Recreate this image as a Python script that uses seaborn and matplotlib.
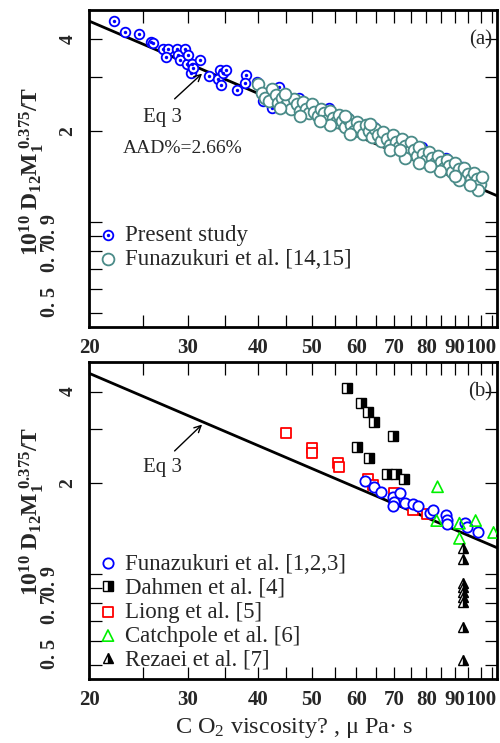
import matplotlib
matplotlib.use('Agg')
import matplotlib.pyplot as plt
from matplotlib.ticker import FixedLocator, FixedFormatter, NullLocator
import seaborn as sns

# ---- panel (a) data ----
present_x = [22.2, 23.2, 24.6, 25.8, 26.0, 27.1, 27.7, 27.4, 28.7, 28.8, 29.1, 29.7,
             29.9, 30.1, 30.4, 30.5, 30.7, 31.6, 32.7, 34.2, 34.0, 34.4, 34.7, 35.1,
             36.7, 38.1, 38.0, 39.9, 40.9, 43.6, 42.4, 47.4, 47.2, 53.6, 57.9, 64.5,
             70.0, 78.5, 86.6, 92.5]
present_y = [4.59, 4.22, 4.16, 3.91, 3.88, 3.73, 3.73, 3.49, 3.71, 3.54, 3.43, 3.71,
             3.33, 3.54, 3.11, 3.33, 3.23, 3.41, 3.02, 3.16, 2.97, 2.82, 3.09, 3.18,
             2.73, 3.06, 2.88, 2.90, 2.51, 2.78, 2.37, 2.57, 2.38, 2.37, 2.21, 2.05,
             1.90, 1.77, 1.63, 1.52]

funa_a_x = [40.0, 40.7, 41.2, 42.0, 42.4, 43.1, 43.5, 44.2, 44.7, 45.3, 45.8, 46.4,
            47.0, 47.6, 48.2, 48.7, 49.4, 50.0, 50.4, 51.2, 51.9, 52.5, 53.1, 53.8,
            54.5, 55.1, 55.8, 56.5, 57.2, 57.9, 58.6, 59.4, 60.1, 60.8, 61.6, 62.4,
            63.1, 63.9, 64.7, 65.5, 66.3, 67.1, 68.0, 68.8, 69.7, 70.5, 71.4, 72.3,
            73.2, 74.1, 75.0, 76.0, 76.9, 77.8, 78.8, 79.8, 80.8, 81.8, 82.8, 83.8,
            84.9, 85.9, 87.0, 88.0, 89.1, 90.2, 91.4, 92.5, 93.6, 94.8, 96.0, 97.2,
            98.4, 99.6, 100.4, 98.8, 43.8, 47.6, 53.8, 58.4, 63.4, 68.8, 73.2, 77.8,
            84.5, 91.7, 44.7, 51.6, 57.2, 71.7, 81.1, 89.9, 95.6]
funa_a_y = [2.84, 2.67, 2.57, 2.51, 2.75, 2.63, 2.46, 2.57, 2.42, 2.51, 2.36, 2.55,
            2.44, 2.33, 2.48, 2.36, 2.28, 2.44, 2.31, 2.23, 2.36, 2.28, 2.17, 2.33,
            2.21, 2.13, 2.26, 2.16, 2.06, 2.19, 2.09, 2.00, 2.14, 2.05, 1.95, 2.09,
            2.00, 1.90, 2.03, 1.94, 1.85, 1.98, 1.88, 1.80, 1.93, 1.84, 1.76, 1.88,
            1.78, 1.70, 1.83, 1.73, 1.65, 1.76, 1.68, 1.60, 1.70, 1.63, 1.56, 1.65,
            1.58, 1.51, 1.60, 1.53, 1.46, 1.56, 1.49, 1.42, 1.51, 1.44, 1.38, 1.45,
            1.39, 1.33, 1.41, 1.27, 2.38, 2.24, 2.08, 1.95, 2.11, 1.72, 1.62, 1.57,
            1.47, 1.37, 2.65, 2.16, 2.24, 1.72, 1.53, 1.42, 1.32]

# ---- panel (b) data ----
funa_b_x = [62.1, 64.5, 66.3, 69.7, 70.0, 69.7, 71.7, 73.2, 75.7, 77.2, 81.1, 82.1,
            86.6, 87.0, 87.0, 94.0, 94.4, 98.8]
funa_b_y = [2.03, 1.93, 1.87, 1.80, 1.73, 1.67, 1.85, 1.72, 1.70, 1.67, 1.59, 1.62,
            1.57, 1.51, 1.46, 1.47, 1.43, 1.38]

dahmen_x = [57.7, 61.3, 62.9, 64.5, 69.7, 60.1, 63.1, 68.0, 70.5, 72.9]
dahmen_y = [4.12, 3.68, 3.43, 3.18, 2.86, 2.63, 2.42, 2.14, 2.14, 2.06]

liong_x = [44.9, 50.0, 50.0, 55.6, 55.8, 62.9, 64.2, 70.2, 75.7, 80.1]
liong_y = [2.93, 2.61, 2.51, 2.33, 2.26, 2.05, 1.97, 1.85, 1.63, 1.58]

catch_x = [83.8, 83.5, 91.7, 91.7, 98.0, 105.5]
catch_y = [1.94, 1.50, 1.47, 1.31, 1.50, 1.37]

rezaei_x = [92.9, 92.9, 92.9, 92.9, 92.9, 92.9, 92.9, 92.9, 92.9]
rezaei_y = [1.22, 1.12, 0.934, 0.906, 0.872, 0.839, 0.808, 0.668, 0.519]

# Eq 3 correlation line (end points)
eq3_x = [20, 107]
eq3_y = [4.6, 1.22]

x_ticks = [20, 25, 30, 35, 40, 45, 50, 55, 60, 65, 70, 75, 80, 85, 90, 95, 100, 105]
x_ticklabels = ['20', '', '30', '', '40', '', '50', '', '60', '', '70', '', '80', '',
                '90', '', '100', '']
y_ticks = [0.5, 0.6, 0.7, 0.8, 0.9, 1, 2, 3, 4]
y_ticklabels = ['', '', '', '', '', '', '2', '', '4']
y_small_labels = ['0. 5', '0. 7', '0. 9']
y_small_pos = [0.544, 0.765, 0.95]

sns.set_style('ticks')
plt.rcParams['font.family'] = ['Liberation Serif', 'DejaVu Serif']
plt.rcParams['mathtext.fontset'] = 'custom'
plt.rcParams['mathtext.rm'] = 'Liberation Serif'
plt.rcParams['mathtext.bf'] = 'Liberation Serif:bold'
plt.rcParams['mathtext.it'] = 'Liberation Serif:italic'

fig = plt.figure(figsize=(5, 7.43), dpi=100)
ax_a = fig.add_axes([0.178, 0.5599, 0.816, 0.4266])
ax_b = fig.add_axes([0.178, 0.0864, 0.816, 0.4260])


def style_axis(ax, tag):
    ax.set_xscale('log')
    ax.set_yscale('log')
    ax.set_xlim(20, 107)
    ax.set_ylim(0.45, 5.0)
    ax.xaxis.set_major_locator(FixedLocator(x_ticks))
    ax.xaxis.set_major_formatter(FixedFormatter(x_ticklabels))
    ax.xaxis.set_minor_locator(NullLocator())
    ax.yaxis.set_major_locator(FixedLocator(y_ticks))
    ax.yaxis.set_major_formatter(FixedFormatter(y_ticklabels))
    ax.yaxis.set_minor_locator(NullLocator())
    ax.tick_params(which='both', direction='in', top=True, right=True,
                   length=9, width=0.9, color='black')
    ax.tick_params(axis='x', labelsize=15, pad=8)
    ax.tick_params(axis='y', labelsize=14, pad=9, labelrotation=90)
    for lab in ax.get_xticklabels() + ax.get_yticklabels():
        lab.set_fontweight('bold')
    for lab in ax.get_yticklabels():
        lab.set_va('center')
    for s in ax.spines.values():
        s.set_linewidth(2)
        s.set_color('black')
    for txt, pos in zip(y_small_labels, y_small_pos):
        ax.text(-0.095, pos, txt, transform=ax.get_yaxis_transform(), rotation=90,
                ha='center', va='center', fontsize=14.5, fontweight='bold')
    ax.text(0.988, 0.905, tag, transform=ax.transAxes, ha='right', va='center',
            fontsize=15)
    sns.lineplot(x=eq3_x, y=eq3_y, ax=ax, color='black', linewidth=2, zorder=2)


style_axis(ax_a, '(a)')
style_axis(ax_b, '(b)')

# panel (a)
sns.scatterplot(x=present_x, y=present_y, ax=ax_a, marker='o', s=48,
                facecolor='white', edgecolor='#0000ff', linewidth=1.3, zorder=3)
ring = ax_a.collections[-1]
sns.scatterplot(x=present_x, y=present_y, ax=ax_a, marker='o', s=6,
                color='#0000ff', linewidth=0, zorder=4)
dot = ax_a.collections[-1]
sns.scatterplot(x=funa_a_x, y=funa_a_y, ax=ax_a, marker='o', s=72,
                facecolor='white', edgecolor='#4a8b88', linewidth=1.3, zorder=5)
funa_a = ax_a.collections[-1]

ax_a.annotate('', xy=(32.1, 3.13), xytext=(28.2, 2.51),
              arrowprops=dict(arrowstyle='->', color='black', lw=1, mutation_scale=12))
ax_a.text(27.0, 2.21, 'Eq 3', ha='center', va='center', fontsize=15)
ax_a.text(29.4, 1.74, 'AAD%=2.66%', ha='center', va='center', fontsize=14)

ax_a.legend(handles=[(ring, dot), funa_a],
            labels=['Present study', 'Funazukuri et al. [14,15]'],
            loc='upper left', bbox_to_anchor=(0.024, 0.322), frameon=False,
            borderpad=0, borderaxespad=0, handlelength=0.8, handletextpad=0.34,
            labelspacing=0.12, fontsize=16.5)

# panel (b)
sns.scatterplot(x=liong_x, y=liong_y, ax=ax_b, marker='s', s=50,
                facecolor='white', edgecolor='#ff0000', linewidth=1.3, zorder=3)
liong = ax_b.collections[-1]
sns.scatterplot(x=funa_b_x, y=funa_b_y, ax=ax_b, marker='o', s=55,
                facecolor='white', edgecolor='#0000ff', linewidth=1.3, zorder=4)
funa_b = ax_b.collections[-1]
sns.scatterplot(x=catch_x, y=catch_y, ax=ax_b, marker='^', s=65,
                facecolor='none', edgecolor='#00f000', linewidth=1.2, zorder=5)
catch = ax_b.collections[-1]
dahmen, = ax_b.plot(dahmen_x, dahmen_y, ls='none', marker='s', ms=7.5,
                    fillstyle='right', mfc='black', mfcalt='white', mec='black',
                    mew=1.0, zorder=3)
rezaei, = ax_b.plot(rezaei_x, rezaei_y, ls='none', marker='^', ms=7,
                    fillstyle='right', mfc='black', mfcalt='white', mec='black',
                    mew=1.0, zorder=5)

ax_b.annotate('', xy=(32.1, 3.16), xytext=(28.2, 2.51),
              arrowprops=dict(arrowstyle='->', color='black', lw=1, mutation_scale=12))
ax_b.text(27.0, 2.24, 'Eq 3', ha='center', va='center', fontsize=15)

ax_b.legend(handles=[funa_b, dahmen, liong, catch, rezaei],
            labels=['Funazukuri et al. [1,2,3]', 'Dahmen et al. [4]',
                    'Liong et al. [5]', 'Catchpole et al. [6]', 'Rezaei et al. [7]'],
            loc='upper left', bbox_to_anchor=(0.024, 0.396), frameon=False,
            borderpad=0, borderaxespad=0, handlelength=0.8, handletextpad=0.34,
            labelspacing=0.13, fontsize=16.5)

ylab = r'$\mathbf{10^{10}\ D_{12}M_1^{\ 0.375}/T}$'
fig.text(0.064, 0.769, ylab, rotation=90, ha='center', va='center', fontsize=17)
fig.text(0.064, 0.312, ylab, rotation=90, ha='center', va='center', fontsize=17)
fig.text(0.588, 0.02, 'C O$_2$ viscosity? , μ Pa· s', ha='center', va='center',
         fontsize=17.5)

fig.savefig('out.png', dpi=100)
